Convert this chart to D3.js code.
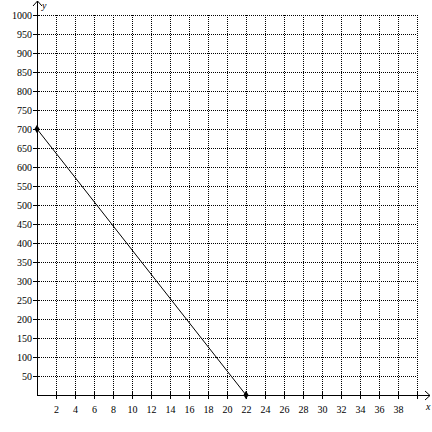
<!DOCTYPE html>
<html>
<head>
<meta charset="utf-8">
<script src="https://cdn.jsdelivr.net/npm/d3@7"></script>
<style>
  body { margin: 0; background: #fff; }
  svg text { font-family: "Liberation Serif", serif; font-size: 10px; fill: #000; }
</style>
</head>
<body>
<div id="chart"></div>
<script>
// tick values on each axis
var xTicks = [2, 4, 6, 8, 10, 12, 14, 16, 18, 20, 22, 24, 26, 28, 30, 32, 34, 36, 38, 40];
var xLabels = [2, 4, 6, 8, 10, 12, 14, 16, 18, 20, 22, 24, 26, 28, 30, 32, 34, 36, 38];
var yTicks = [50, 100, 150, 200, 250, 300, 350, 400, 450, 500, 550, 600, 650, 700, 750, 800, 850, 900, 950, 1000];

// the line, between its two end points
var lineX = [0, 22];
var lineY = [700, 0];

var width = 432, height = 432;

var svg = d3.select("#chart")
	.append("svg")
	.attr("width", width)
	.attr("height", height);

var x = d3.scaleLinear().domain([0, 40]).range([37, 417]);
var y = d3.scaleLinear().domain([0, 1000]).range([395, 15]);

// dotted grid
svg.append("g").selectAll("line")
	.data(xTicks)
	.enter().append("line")
	.attr("x1", d => x(d) + 0.5).attr("x2", d => x(d) + 0.5)
	.attr("y1", y(1000)).attr("y2", y(0))
	.attr("stroke", "#000")
	.attr("stroke-width", 1)
	.attr("stroke-dasharray", "1,1");

svg.append("g").selectAll("line")
	.data(yTicks)
	.enter().append("line")
	.attr("x1", x(0)).attr("x2", x(40))
	.attr("y1", d => y(d) + 0.5).attr("y2", d => y(d) + 0.5)
	.attr("stroke", "#000")
	.attr("stroke-width", 1)
	.attr("stroke-dasharray", "1,1");

// x axis with arrow
svg.append("line")
	.attr("x1", x(0)).attr("x2", 430)
	.attr("y1", y(0) + 0.5).attr("y2", y(0) + 0.5)
	.attr("stroke", "#000");
svg.append("path")
	.attr("d", "M425," + (y(0) - 4) + "L430," + (y(0) + 0.5) + "L425," + (y(0) + 5))
	.attr("fill", "none").attr("stroke", "#000");

svg.append("g").selectAll("line")
	.data(xTicks)
	.enter().append("line")
	.attr("x1", d => x(d) + 0.5).attr("x2", d => x(d) + 0.5)
	.attr("y1", y(0) - 3).attr("y2", y(0) + 4)
	.attr("stroke", "#000");

svg.append("g").selectAll("text")
	.data(xLabels)
	.enter().append("text")
	.attr("x", d => x(d) + 0.5)
	.attr("y", y(0) + 18)
	.attr("text-anchor", "middle")
	.text(d => d);

svg.append("text")
	.attr("x", 426).attr("y", 410)
	.style("font-style", "italic")
	.text("x");

// y axis with arrow
svg.append("line")
	.attr("x1", x(0) + 0.5).attr("x2", x(0) + 0.5)
	.attr("y1", y(0)).attr("y2", 1)
	.attr("stroke", "#000");
svg.append("path")
	.attr("d", "M" + (x(0) - 4) + ",6L" + (x(0) + 0.5) + ",1L" + (x(0) + 5) + ",6")
	.attr("fill", "none").attr("stroke", "#000");

svg.append("g").selectAll("line")
	.data(yTicks)
	.enter().append("line")
	.attr("x1", x(0) - 4).attr("x2", x(0) + 3)
	.attr("y1", d => y(d) + 0.5).attr("y2", d => y(d) + 0.5)
	.attr("stroke", "#000");

svg.append("g").selectAll("text")
	.data(yTicks)
	.enter().append("text")
	.attr("x", x(0) - 5)
	.attr("y", d => y(d) + 4)
	.attr("text-anchor", "end")
	.text(d => d);

svg.append("text")
	.attr("x", 42).attr("y", 9)
	.style("font-style", "italic")
	.text("y");

// the line and its end points
var pts = lineX.map((d, i) => [d, lineY[i]]);
svg.append("path")
	.datum(pts)
	.attr("d", d3.line().x(d => x(d[0])).y(d => y(d[1])))
	.attr("fill", "none")
	.attr("stroke", "#000")
	.attr("stroke-width", 1);

svg.append("g").selectAll("path")
	.data(pts)
	.enter().append("path")
	.attr("transform", d => "translate(" + x(d[0]) + "," + y(d[1]) + ")")
	.attr("d", d3.symbol().type(d3.symbolDiamond).size(22))
	.attr("fill", "#000");
</script>
</body>
</html>
